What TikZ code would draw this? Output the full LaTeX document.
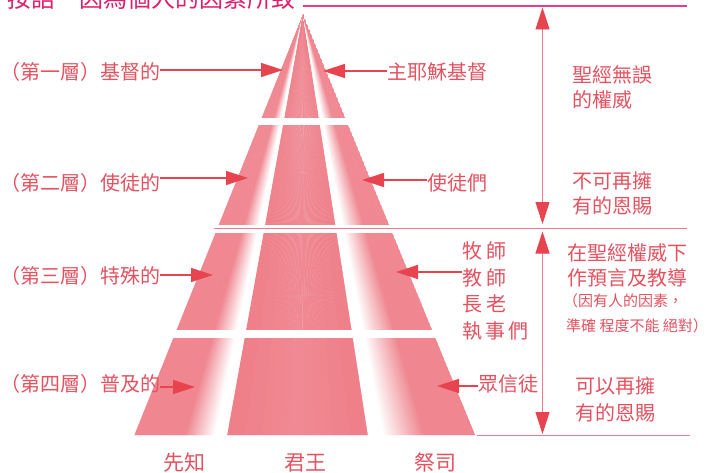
\documentclass[tikz,border=0pt]{standalone}
\usepackage{fontspec}
\setmainfont{Noto Sans CJK TC}
\usetikzlibrary{arrows.meta}
\definecolor{pk}{RGB}{236,104,116}
\definecolor{txtc}{RGB}{228,82,96}
\definecolor{arrc}{RGB}{232,68,80}
\definecolor{titlec}{RGB}{222,30,110}
\definecolor{topc}{RGB}{236,60,135}
\definecolor{linec}{RGB}{240,120,140}
\begin{document}
\begin{tikzpicture}[x=1pt,y=-1pt,
  lbl/.style={anchor=base west, inner sep=0pt, text=txtc, font=\fontsize{20pt}{24pt}\selectfont},
  sml/.style={anchor=base west, inner sep=0pt, text=txtc, font=\fontsize{15pt}{18pt}\selectfont},
  bot/.style={anchor=base, inner sep=0pt, text=txtc, font=\fontsize{21pt}{24pt}\selectfont},
  ttl/.style={anchor=base west, inner sep=0pt, text=titlec, font=\fontsize{24pt}{28pt}\selectfont},
  harr/.style={draw=arrc, line width=1.4pt, -{Triangle[length=22pt,width=14pt]}},
  varr/.style={draw=linec, line width=0.9pt, {Triangle[length=22pt,width=14pt,color=arrc]}-{Triangle[length=22pt,width=14pt,color=arrc]}},
  hline/.style={draw=linec, line width=0.9pt},
  topline/.style={draw=topc, line width=1.1pt}]
\clip (0,0) rectangle (711,473);
\fill[white] (0,0) rectangle (711,473);
% pyramid (fan of wedges from the apex)
\begin{scope}
\clip (303,15) -- (134,435) -- (475,435) -- cycle;
\foreach \i in {0,...,341} {
  \pgfmathsetmacro\xa{134+\i}
  \pgfmathsetmacro\uu{\xa+0.5-303}
  \pgfmathtruncatemacro\pp{ifthenelse(\uu<-118,80,ifthenelse(\uu<-88,(-88-\uu)/30*80,ifthenelse(\uu<-76,0,ifthenelse(\uu<65,78+abs(\uu+5.5)/70.5*8,ifthenelse(\uu<80,0,ifthenelse(\uu<122,(\uu-80)/42*80,80))))))}
  \fill[pk!\pp!white] (303,15) -- (\xa,436) -- ({\xa+1.6},436) -- cycle;
}
\end{scope}
% white gaps between layers
\fill[white] (120,118) rectangle (490,125);
\fill[white] (120,225) rectangle (490,233);
\fill[white] (120,330) rectangle (490,338);
% title (cut off at top)
\node[ttl] (title) at (7,8) {按語　因為個人的因素所致};
% guide lines
\coordinate (tl1) at (303,6);
\coordinate (tl2) at (687,6);
\draw[topline] (tl1) -- (tl2);
\coordinate (la1) at (214,228.5);
\coordinate (la2) at (687,228.5);
\draw[hline] (la1) -- (la2);
\coordinate (lb1) at (477,435.5);
\coordinate (lb2) at (690,435.5);
\draw[hline] (lb1) -- (lb2);
% vertical arrows
\coordinate (v1t) at (542.5,7.5);
\coordinate (v1b) at (542.5,224);
\draw[varr] (v1t) -- (v1b);
\coordinate (v2t) at (542.5,231.5);
\coordinate (v2b) at (542.5,434);
\draw[varr] (v2t) -- (v2b);
% left labels
\node[lbl] (l1) at (0,80) {（第一層）基督的};
\node[lbl] (l2) at (0,190) {（第二層）使徒的};
\node[lbl] (l3) at (0,283) {（第三層）特殊的};
\node[lbl] (l4) at (0,391) {（第四層）普及的};
% right labels
\node[lbl] (r1) at (387,80) {主耶穌基督};
\node[lbl] (r2) at (427,190) {使徒們};
\node[lbl] (r3a) at (462,258) {牧\kern4pt 師};
\node[lbl] (r3b) at (462,285) {教\kern4pt 師};
\node[lbl] (r3c) at (462,311) {長\kern4pt 老};
\node[lbl] (r3d) at (462,338) {執\kern3pt 事\kern3pt 們};
\node[lbl] (r4) at (478,391) {眾信徒};
% arrows
\coordinate (t1) at (283,70);
\coordinate (t2) at (248,178);
\coordinate (t3) at (213,275);
\coordinate (t4) at (195,387);
\coordinate (t5) at (323,71);
\coordinate (t6) at (362,180);
\coordinate (t7) at (396,272);
\coordinate (t8) at (437,386);
\draw[harr] (l1.east |- t1) -- (t1);
\draw[harr] (l2.east |- t2) -- (t2);
\draw[harr] (l3.east |- t3) -- (t3);
\draw[harr] (l4.east |- t4) -- (t4);
\draw[harr] (r1.west |- t5) -- (t5);
\draw[harr] (r2.west |- t6) -- (t6);
\draw[harr] (r3b.west |- t7) -- (t7);
\draw[harr] (r4.west |- t8) -- (t8);
% right column
\node[lbl] (c1a) at (572,83) {聖經無誤};
\node[lbl] (c1b) at (572,108) {的權威};
\node[lbl] (c2a) at (572,188) {不可再擁};
\node[lbl] (c2b) at (572,213) {有的恩賜};
\node[lbl] (c3a) at (567,260) {在聖經權威下};
\node[lbl] (c3b) at (567,285) {作預言及教導};
\node[sml] (c3c) at (563,306) {（因有人的因素，};
\node[sml] (c3d) at (566,331) {準確 程度不能 絕對）};
\node[lbl] (c4a) at (575,393) {可以再擁};
\node[lbl] (c4b) at (575,420) {有的恩賜};
% bottom labels
\node[bot] (b1) at (184.5,470) {先知};
\node[bot] (b2) at (305,470) {君王};
\node[bot] (b3) at (435,470) {祭司};
\end{tikzpicture}
\end{document}
